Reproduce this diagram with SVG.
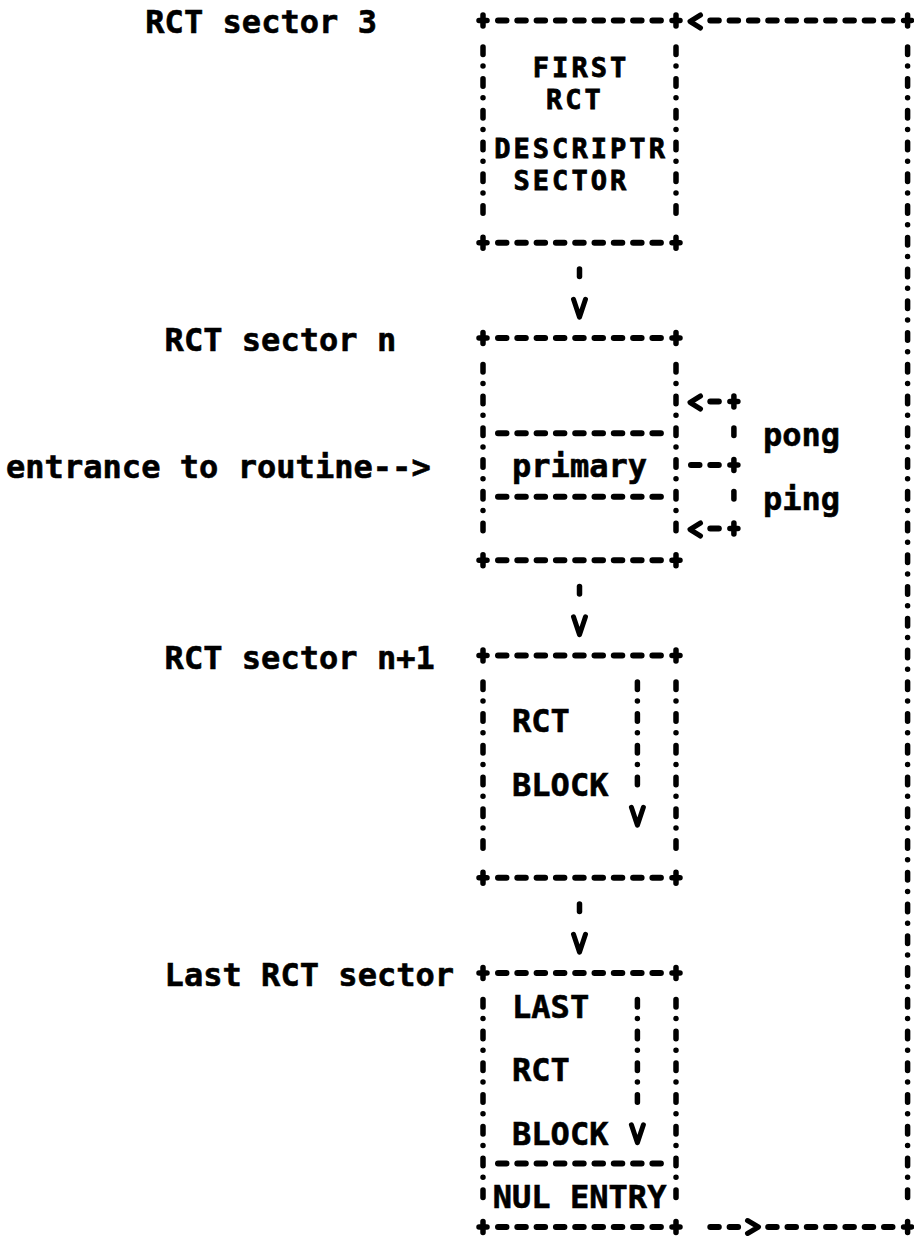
<svg xmlns="http://www.w3.org/2000/svg" width="914" height="1240" viewBox="0 0 914 1240">
<style>
.t{font-family:"DejaVu Sans Mono","Liberation Mono",monospace;font-weight:bold;font-size:32px;letter-spacing:0.04px;fill:#000;stroke:#000;stroke-width:0.6}
.t2{font-family:"DejaVu Sans Mono","Liberation Mono",monospace;font-weight:bold;font-size:27px;letter-spacing:3.05px;fill:#000;stroke:#000;stroke-width:0.8}
.hd{stroke:#000;stroke-width:6;stroke-linecap:round;stroke-dasharray:8.5 10.8;fill:none}
.vd{stroke:#000;stroke-width:5.5;stroke-linecap:round;stroke-dasharray:7.5 11.5 0.01 12.74;fill:none}
.pl{stroke:#000;stroke-width:5.5;stroke-linecap:round;fill:none}
.ch{stroke:#000;stroke-width:5;stroke-linecap:round;stroke-linejoin:round;fill:none}
</style>
<rect width="914" height="1240" fill="#fff"/>

<g id="sector3">
<text class="t" x="145.3" y="33">RCT sector 3</text>
<line class="hd" x1="498" y1="20.5" x2="661" y2="20.5"/>
<line class="hd" x1="498" y1="242.75" x2="661" y2="242.75"/>
<line class="vd" x1="483" y1="47" x2="483" y2="223.3"/>
<line class="vd" x1="676" y1="47" x2="676" y2="223.3"/>
<path class="pl" d="M479 20.5h8M483 15v11M672 20.5h8M676 15v11M479 242.75h8M483 237.25v11M672 242.75h8M676 237.25v11"/>
<text class="t2" x="532.8" y="77">FIRST</text>
<text class="t2" x="546" y="109">RCT</text>
<text class="t2" x="494.2" y="158">DESCRIPTR</text>
<text class="t2" x="513.5" y="190">SECTOR</text>
</g>

<g id="sectorN">
<text class="t" x="164.6" y="351">RCT sector n</text>
<line class="hd" x1="498" y1="338" x2="661" y2="338"/>
<line class="hd" x1="498" y1="560.25" x2="661" y2="560.25"/>
<line class="hd" x1="498" y1="433.25" x2="661" y2="433.25"/>
<line class="hd" x1="498" y1="496.75" x2="661" y2="496.75"/>
<line class="vd" x1="483" y1="364.5" x2="483" y2="540.8"/>
<line class="vd" x1="676" y1="364.5" x2="676" y2="540.8"/>
<path class="pl" d="M479 338h8M483 332.5v11M672 338h8M676 332.5v11M479 560.25h8M483 554.75v11M672 560.25h8M676 554.75v11"/>
<text class="t" x="512" y="477">primary</text>
</g>

<g id="sectorN1">
<text class="t" x="164.6" y="668.5">RCT sector n+1</text>
<line class="hd" x1="498" y1="655.5" x2="661" y2="655.5"/>
<line class="hd" x1="498" y1="877.75" x2="661" y2="877.75"/>
<line class="vd" x1="483" y1="682" x2="483" y2="858.3"/>
<line class="vd" x1="676" y1="682" x2="676" y2="858.3"/>
<path class="pl" d="M479 655.5h8M483 650v11M672 655.5h8M676 650v11M479 877.75h8M483 872.25v11M672 877.75h8M676 872.25v11"/>
<text class="t" x="512" y="732">RCT</text>
<text class="t" x="512" y="795.5">BLOCK</text>
</g>

<g id="lastSector">
<text class="t" x="164.6" y="986">Last RCT sector</text>
<line class="hd" x1="498" y1="973" x2="661" y2="973"/>
<line class="hd" x1="498" y1="1227" x2="661" y2="1227"/>
<line class="hd" x1="498" y1="1163.5" x2="661" y2="1163.5"/>
<line class="vd" x1="483" y1="999.5" x2="483" y2="1207.55"/>
<line class="vd" x1="676" y1="999.5" x2="676" y2="1207.55"/>
<path class="pl" d="M479 973h8M483 967.5v11M672 973h8M676 967.5v11M479 1227h8M483 1221.5v11M672 1227h8M676 1221.5v11"/>
<text class="t" x="512" y="1017.75">LAST</text>
<text class="t" x="512" y="1081.25">RCT</text>
<text class="t" x="512" y="1144.75">BLOCK</text>
<text class="t" x="492.7" y="1208.25">NUL ENTRY</text>
</g>

<g id="entrance">
<text class="t" x="6" y="478">entrance to routine--&gt;</text>
</g>

<g id="pingpong-labels">
<text class="t" x="762.9" y="446">pong</text>
<text class="t" x="762.9" y="509.5">ping</text>
</g>

<g id="connectors">
<line class="vd" x1="579.5" y1="269" x2="579.5" y2="286.8"/>
<polyline class="ch" points="573.5,299.25 579.5,317.25 585.5,299.25"/>
<line class="vd" x1="579.5" y1="586.5" x2="579.5" y2="604.3"/>
<polyline class="ch" points="573.5,616.75 579.5,634.75 585.5,616.75"/>
<line class="vd" x1="579.5" y1="904" x2="579.5" y2="921.8"/>
<polyline class="ch" points="573.5,934.25 579.5,952.25 585.5,934.25"/>
<line class="vd" x1="637.4" y1="682" x2="637.4" y2="794.8"/>
<polyline class="ch" points="631.4,807.25 637.4,825.25 643.4,807.25"/>
<line class="vd" x1="637.4" y1="999.5" x2="637.4" y2="1112.3"/>
<polyline class="ch" points="631.4,1124.75 637.4,1142.75 643.4,1124.75"/>
<line class="hd" x1="710.3" y1="401.5" x2="718.8" y2="401.5"/>
<polyline class="ch" points="700.5,396 690,402.5 700.5,409"/>
<line class="hd" x1="691" y1="465" x2="718.8" y2="465"/>
<line class="hd" x1="710.3" y1="528.5" x2="718.8" y2="528.5"/>
<polyline class="ch" points="700.5,523 690,529.5 700.5,536"/>
<line class="vd" x1="733.9" y1="428" x2="733.9" y2="445.55"/>
<line class="vd" x1="733.9" y1="491.5" x2="733.9" y2="509.05"/>
<path class="pl" d="M729.9 401.5h8M733.9 396v11M729.9 465h8M733.9 459.5v11M729.9 528.5h8M733.9 523v11"/>
<line class="hd" x1="710.3" y1="1227" x2="738.2" y2="1227"/>
<polyline class="ch" points="747.5,1220.5 758.5,1227 747.5,1233.5"/>
<line class="hd" x1="768.2" y1="1227" x2="892.6" y2="1227"/>
<path class="pl" d="M903.6 1227h8M907.6 1221.5v11M903.6 20.5h8M907.6 15v11"/>
<line class="vd" x1="907.6" y1="47" x2="907.6" y2="1207.55"/>
<line class="hd" x1="710.3" y1="20.5" x2="892.6" y2="20.5"/>
<polyline class="ch" points="700.5,15 690,21.5 700.5,28"/>
</g>
</svg>
